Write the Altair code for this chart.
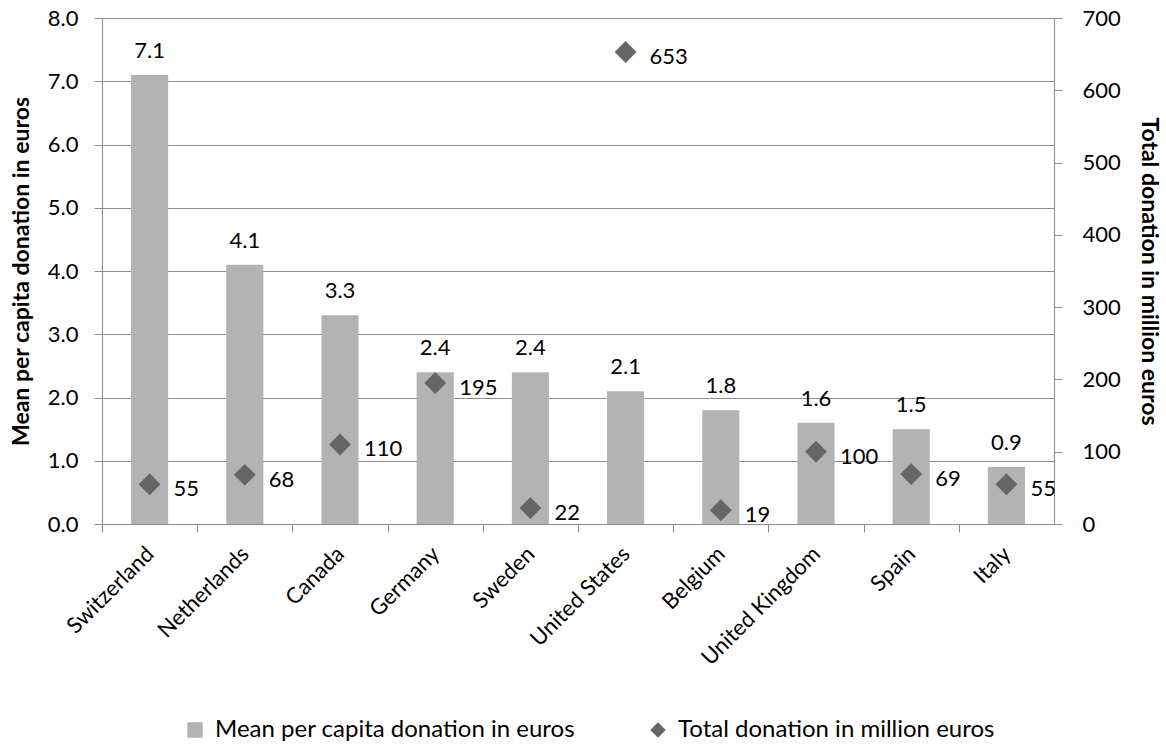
import altair as alt
import pandas as pd

countries = ["Switzerland", "Netherlands", "Canada", "Germany", "Sweden",
             "United States", "Belgium", "United Kingdom", "Spain", "Italy"]
mean_per_capita = [7.1, 4.1, 3.3, 2.4, 2.4, 2.1, 1.8, 1.6, 1.5, 0.9]
total_donation = [55, 68, 110, 195, 22, 653, 19, 100, 69, 55]

S1 = "Mean per capita donation in euros"
S2 = "Total donation in million euros"

df = pd.DataFrame({
    "country": countries,
    "mean": mean_per_capita,
    "total": total_donation,
})

FONT = "Lato"
GRID = "#8c8c8c"
FS = 22
TFS = 23
W, H = 952, 506
STEP = W / len(countries)

xscale = alt.Scale(paddingInner=0, paddingOuter=0)

xenc = alt.X("country:N", sort=countries, title=None, scale=xscale,
             axis=alt.Axis(labelAngle=-45, labelFontSize=FS, labelFont=FONT,
                           labelColor="#000", domainColor=GRID, tickColor=GRID,
                           tickSize=8, tickOffset=-STEP / 2, labelOffset=STEP / 2 - 7,
                           labelPadding=11, labelAlign="right", labelBaseline="top"))

color_scale = alt.Scale(domain=[S1, S2], range=["#b3b3b3", "#666666"])
shape_scale = alt.Scale(domain=[S1, S2], range=["square", "diamond"])

legend = alt.Legend(title=None, orient="none", direction="horizontal",
                    legendX=81, legendY=700, labelFontSize=24,
                    labelFont=FONT, labelColor="#000", labelLimit=1000,
                    symbolSize=240, columnPadding=70, labelOffset=8,
                    symbolStrokeWidth=0, symbolOpacity=1)

yleft = alt.Y("mean:Q", scale=alt.Scale(domain=[0, 8], nice=False),
              title="Mean per capita donation in euros",
              axis=alt.Axis(values=[0, 1, 2, 3, 4, 5, 6, 7, 8], format=".1f",
                            grid=True, gridColor=GRID, domainColor=GRID,
                            tickColor=GRID, tickSize=8, labelFontSize=FS,
                            labelFont=FONT, labelPadding=16, titleFont=FONT,
                            titleFontSize=TFS, titleFontWeight="bold",
                            titlePadding=14, labelColor="#000"))

bars = alt.Chart(df).transform_calculate(series=f"'{S1}'").mark_bar(
    width=alt.RelativeBandSize(0.39)).encode(
    x=xenc,
    y=yleft,
    color=alt.Color("series:N", scale=color_scale, legend=legend),
)

bar_text = alt.Chart(df).mark_text(baseline="middle", dy=-24, fontSize=FS,
                                   font=FONT, color="#000").encode(
    x=alt.X("country:N", sort=countries, scale=xscale),
    y=alt.Y("mean:Q"),
    text=alt.Text("mean:Q", format=".1f"),
)

left = alt.layer(bars, bar_text)

yright = alt.Y("total:Q", scale=alt.Scale(domain=[0, 700], nice=False),
               title="Total donation in million euros",
               axis=alt.Axis(orient="right", values=[0, 100, 200, 300, 400, 500, 600, 700],
                             grid=False, domainColor=GRID, tickColor=GRID,
                             tickSize=8, labelFontSize=FS, labelFont=FONT,
                             labelPadding=20, titleFont=FONT, titleFontSize=TFS,
                             titleFontWeight="bold", titlePadding=16,
                             labelColor="#000"))

points = alt.Chart(df).transform_calculate(series=f"'{S2}'").mark_point(
    filled=True, size=480, opacity=1).encode(
    x=alt.X("country:N", sort=countries, scale=xscale),
    y=yright,
    color=alt.Color("series:N", scale=color_scale, legend=legend),
    shape=alt.Shape("series:N", scale=shape_scale, legend=legend),
)

point_text = alt.Chart(df).mark_text(align="left", baseline="middle", dx=24, dy=5,
                                     fontSize=FS, font=FONT, color="#000").encode(
    x=alt.X("country:N", sort=countries, scale=xscale),
    y=alt.Y("total:Q"),
    text=alt.Text("total:Q"),
)

right = alt.layer(points, point_text)

chart = alt.layer(left, right).resolve_scale(y="independent").properties(
    width=W, height=H,
    autosize=alt.AutoSizeParams(type="none"),
    padding={"left": 102, "top": 18, "right": 112, "bottom": 223},
).configure_view(stroke=None).configure(background="white")

chart.save("out.html", embed_options={"renderer": "svg", "actions": False})
